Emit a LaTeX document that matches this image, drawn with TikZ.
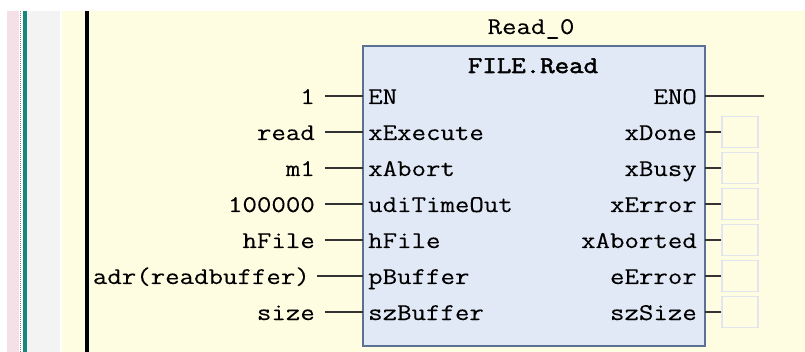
\documentclass[tikz,border=0pt]{standalone}
\usepackage{fontspec}
\newfontfamily\cdsmono[FakeStretch=1.17,FakeBold=0.2]{Latin Modern Mono}
\newfontfamily\cdsmonob[FakeStretch=1.17,FakeBold=2.2]{Latin Modern Mono}
\definecolor{bgyellow}{HTML}{FFFDE1}
\definecolor{stripink}{HTML}{F6E0E7}
\definecolor{stripgray}{HTML}{F3F3F3}
\definecolor{tealline}{HTML}{17867C}
\definecolor{fbfill}{HTML}{E2E9F6}
\definecolor{fbdraw}{HTML}{5C7294}
\definecolor{wirecol}{HTML}{333333}
\definecolor{oboxcol}{HTML}{E2E5EE}
\tikzset{
  txt/.style={font=\cdsmono\fontsize{24}{24}\selectfont, inner sep=0pt, text=black, text height=16pt, text depth=0pt},
  inlabel/.style={txt, anchor=east, inner xsep=10pt},
  pinl/.style={txt, anchor=west},
  pinr/.style={txt, anchor=east},
  wire/.style={draw=wirecol, line width=2pt},
  obox/.style={draw=oboxcol, line width=1.6pt, minimum width=36pt, minimum height=31pt, inner sep=0pt, fill=bgyellow},
  fblock/.style={draw=fbdraw, fill=fbfill, line width=2.5pt, inner sep=0pt, outer sep=0pt, minimum width=342pt, minimum height=300pt, anchor=north west}
}
\begin{document}
\begin{tikzpicture}[x=1pt,y=-1pt]
\useasboundingbox (0,0) rectangle (805,352);
% background
\fill[white] (0,0) rectangle (805,352);
\fill[stripink] (7,11) rectangle (19,352);
\fill[stripgray] (27,11) rectangle (60,352);
\fill[bgyellow] (62,11) rectangle (805,352);
\draw[gray, line width=1.2pt, dash pattern=on 1pt off 1pt] (20.3,11) -- (20.3,352);
\draw[tealline, line width=3.5pt] (25,11) -- (25,352);
\draw[black, line width=3.5pt] (87,11) -- (87,352);
% function block
\node[fblock] (fb) at (363,46) {};
\node[txt, anchor=center] (inst) at (531,26) {Read\_0};
\node[txt, anchor=center, font=\cdsmonob\fontsize{24}{24}\selectfont] (type) at (533,65) {FILE.Read};
% inputs
\foreach \i/\lab/\pin/\y in {0/1/EN/96, 1/read/xExecute/132, 2/m1/xAbort/168, 3/100000/udiTimeOut/204, 4/hFile/hFile/240, 6/size/szBuffer/312}{
  \node[inlabel] (in\i) at (325,\y) {\lab};
  \node[pinl] (pi\i) at (368,\y) {\pin};
  \draw[wire] (in\i.east) -- (in\i.east -| fb.west);
}
\node[inlabel, inner xsep=7pt] (in5) at (317,276) {adr(readbuffer)};
\node[pinl] (pi5) at (368,276) {pBuffer};
\draw[wire] (in5.east) -- (in5.east -| fb.west);
% outputs
\node[pinr] (po0) at (697,96) {ENO};
\coordinate (enoend) at (764,96);
\draw[wire] (po0.east -| fb.east) -- (enoend);
\foreach \i/\pin/\y in {1/xDone/132, 2/xBusy/168, 3/xError/204, 4/xAborted/240, 5/eError/276, 6/szSize/312}{
  \node[pinr] (po\i) at (697,\y) {\pin};
  \node[obox] (ob\i) at (740,\y) {};
  \draw[wire] (po\i.east -| fb.east) -- (ob\i.west);
}
\end{tikzpicture}
\end{document}
